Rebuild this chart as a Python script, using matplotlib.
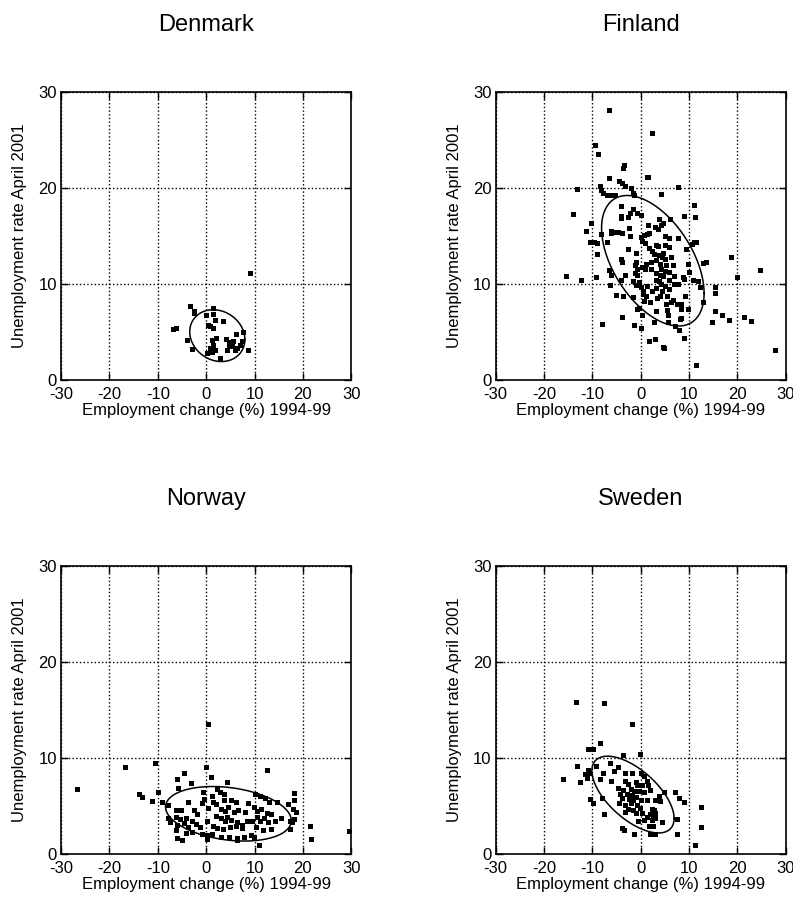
import numpy as np
import matplotlib
matplotlib.use("Agg")
import matplotlib.pyplot as plt

plt.rcParams['font.family'] = ['Liberation Sans', 'DejaVu Sans']
plt.rcParams['axes.unicode_minus'] = False

countries = ['Denmark', 'Finland', 'Norway', 'Sweden']
xlabel = 'Employment change (%) 1994-99'
ylabel = 'Unemployment rate April 2001'
ticks = [-30, -20, -10, 0, 10, 20, 30]
yticks = [0, 10, 20, 30]

# Denmark
dk_x = [9.1, -3.3, -2.6, -2.5, -6.2, -6.8, -4.0, -3.0, 0.0, 1.5, 1.4, 1.8, 3.5, 0.3,
        0.8, 1.5, 2.1, 1.3, 1.5, 0.8, 0.1, 1.2, 1.9, 2.8, 4.1, 4.8, 5.3, 4.3, 5.5,
        6.2, 7.7, 6.4, 6.9, 7.4, 8.6, 6.0, 4.8]
dk_y = [11.1, 7.7, 7.2, 7.0, 5.4, 5.3, 4.1, 3.2, 6.8, 7.5, 6.9, 6.2, 6.1, 5.7,
        5.6, 5.4, 4.4, 4.1, 3.6, 3.3, 2.8, 2.9, 3.1, 2.3, 4.2, 3.9, 3.5, 3.1, 4.0,
        4.8, 5.0, 3.3, 3.6, 4.0, 3.1, 3.1, 3.5]

# Finland
fi_x = [-6.6, 2.3, -9.4, -8.9, -3.4, -3.7, -6.5, 1.2, 1.6, -13.1, -8.4, -8.2, -4.4,
        -3.9, -3.2, -2.0, 7.8, -7.7, -7.0, -6.2, -5.3, -1.7, -1.3, 4.2, -14.1, -4.1,
        -1.7, -2.3, -0.7, 0.1, 11.0, 11.2, 9.0, -10.3, -4.0, -4.0, -2.6, 3.8, 6.1,
        1.4, 2.9, 3.5, 4.1, 4.5, -11.4, -8.3, -6.1, -6.2, -5.8, -4.8, -3.9, -2.5,
        -2.3, -10.5, -9.6, -9.1, -7.0, 0.1, 0.6, 1.2, 1.8, 5.0, 5.9, 7.7, 11.0, 11.4,
        10.6, 0.2, 0.8, 3.2, 3.6, 5.0, 5.9, -2.6, 1.7, 2.4, 9.4, -9.1, -1.0, 2.8, 3.8,
        4.7, 4.3, -4.1, -3.8, -1.0, 2.1, 3.2, 5.0, 6.2, 12.8, 13.5, 18.6, -1.1, 0.2,
        1.1, 4.0, 5.2, 6.6, 9.7, -6.5, -0.8, 0.8, 2.1, 4.2, 5.0, 5.9, 9.9, 24.6,
        -15.4, -12.4, -9.2, -6.2, -3.2, -1.2, -0.7, 3.2, 3.9, 4.7, 6.8, 8.7, 9.0,
        20.0, -4.1, -1.5, -0.3, 3.2, 3.7, 5.9, 6.9, 7.6, 10.8, 11.9, -6.3, -1.0, 0.0,
        1.2, 4.1, 5.1, 12.3, 15.4, 15.4, 0.4, 2.3, 3.2, 5.9, 4.3, 0.4, 1.1, -5.1,
        -3.7, -1.5, 3.3, 3.9, 5.4, 9.1, 0.7, 1.9, 6.6, 5.2, 6.2, 7.4, 8.3, 12.8,
        -0.8, -0.3, 3.2, 5.4, 8.3, 9.7, 15.4, 16.8, 0.2, 5.6, 8.3, 8.1, -3.9, 21.4,
        22.8, 18.3, 14.8, 5.7, 2.8, -8.1, -1.3, 0.0, 7.1, 7.9, 9.0, 3.0, 1.7, 4.7,
        4.9, 27.7, 11.4]
fi_y = [28.1, 25.7, 24.5, 23.5, 22.4, 22.1, 21.0, 21.1, 21.1, 19.9, 20.2, 19.8, 20.7,
        20.5, 20.2, 20.0, 20.1, 19.5, 19.3, 19.2, 19.3, 19.5, 19.3, 19.4, 17.3, 18.1,
        17.8, 17.4, 17.4, 17.2, 18.2, 17.0, 17.1, 16.3, 17.1, 16.9, 17.0, 16.7, 16.7,
        16.1, 15.9, 15.7, 16.1, 16.3, 15.5, 15.2, 15.5, 15.3, 15.4, 15.4, 15.3, 15.8,
        15.0, 14.4, 14.4, 14.3, 14.4, 14.9, 15.1, 15.2, 15.3, 15.0, 14.8, 14.8, 14.4,
        14.4, 14.1, 14.5, 14.3, 14.0, 13.9, 14.0, 13.8, 13.6, 13.7, 13.4, 13.6, 13.1,
        13.2, 13.1, 13.0, 13.2, 12.8, 12.6, 12.3, 12.3, 12.3, 12.5, 12.6, 12.8, 12.2,
        12.3, 12.8, 12.0, 11.8, 12.1, 12.1, 12.0, 12.0, 12.1, 11.4, 11.5, 11.5, 11.5,
        11.5, 11.3, 11.2, 11.2, 11.4, 10.8, 10.4, 10.7, 10.9, 10.9, 11.1, 10.9, 11.1,
        10.9, 10.8, 10.8, 10.7, 10.5, 10.7, 10.4, 10.3, 10.2, 10.4, 10.3, 10.4, 10.0,
        10.0, 10.4, 10.3, 9.9, 9.9, 9.7, 9.8, 10.0, 9.8, 9.7, 9.7, 9.0, 9.3, 9.2, 9.6,
        9.5, 9.2, 8.9, 8.7, 8.8, 8.7, 8.6, 8.5, 8.7, 8.7, 8.7, 8.2, 8.1, 8.3, 7.9,
        8.1, 7.9, 7.9, 8.1, 7.4, 7.5, 7.2, 7.3, 7.4, 7.4, 7.2, 6.8, 6.8, 6.8, 6.4,
        6.3, 6.5, 6.5, 6.1, 6.2, 6.0, 6.0, 6.0, 5.8, 5.7, 5.4, 5.6, 5.2, 4.4, 4.2,
        4.0, 3.4, 3.3, 3.1, 1.5]

# Norway
no_x = [-26.7, -16.8, -10.5, 0.4, 0.0, 12.5, -4.6, 0.9, -6.0, -3.1, 4.3, -5.9, -0.6,
        2.3, 2.8, 3.7, -10.0, -13.9, -13.3, -11.2, -9.1, -3.8, -0.5, 1.2, -0.8, 1.4,
        3.7, 5.2, 6.2, 8.7, 10.1, 11.1, 12.1, 12.9, 14.7, 16.9, 18.1, 18.1, 18.0,
        18.6, -7.9, -6.3, -5.3, -2.6, -1.9, 0.4, 2.1, 3.1, 3.8, 4.6, 5.7, 6.6, 8.1,
        9.9, 10.6, 11.4, 12.5, 13.5, -7.9, -6.3, -5.4, -4.1, -2.9, 0.2, 2.0, 3.0, 3.8,
        4.3, 5.2, 6.4, 7.4, 8.5, 9.5, 10.6, 11.2, 11.9, 12.8, 14.3, 15.4, 17.3, 18.1,
        17.8, -7.4, -6.0, -4.6, -3.7, -2.2, -1.2, 1.4, 2.3, 3.5, 5.0, 6.1, 7.4, 10.2,
        11.8, 13.4, 17.3, -6.3, -4.1, -2.9, -0.8, 0.2, 1.2, 3.0, 4.7, 6.3, 7.8, 9.2,
        9.9, -6.0, -5.0, 0.2, 6.4, 10.9, 21.4, 21.6, 29.5]
no_y = [6.8, 9.1, 9.5, 13.6, 9.1, 8.8, 8.4, 8.0, 7.8, 7.4, 7.5, 6.9, 6.5, 6.8, 6.5,
        6.3, 6.5, 6.3, 5.9, 5.5, 5.4, 5.4, 5.7, 6.1, 5.3, 5.4, 5.6, 5.6, 5.4, 5.3,
        6.3, 6.1, 5.8, 5.4, 5.4, 5.2, 6.4, 5.6, 4.7, 4.4, 5.1, 4.6, 4.6, 4.6, 4.2,
        4.8, 5.2, 4.7, 4.5, 4.9, 4.4, 4.6, 4.4, 4.9, 4.5, 4.7, 4.3, 4.2, 3.8, 3.9,
        3.7, 3.8, 3.4, 3.5, 4.0, 3.8, 3.5, 3.9, 3.6, 3.3, 3.0, 3.4, 3.5, 3.9, 3.5,
        3.8, 3.3, 3.5, 3.8, 3.5, 3.7, 3.3, 3.3, 3.0, 3.2, 2.8, 3.1, 2.8, 2.9, 2.7,
        2.6, 2.8, 2.9, 2.7, 2.8, 2.5, 2.6, 2.6, 2.5, 2.2, 2.3, 2.1, 2.0, 2.1, 1.8,
        1.8, 1.7, 1.8, 2.0, 1.8, 1.7, 1.5, 1.6, 1.5, 0.9, 2.9, 1.6, 2.4]

# Sweden
se_x = [-13.4, -7.5, -1.9, -8.4, -11.0, -9.9, -3.7, -0.2, -13.1, -9.2, -11.0, -11.5,
        -10.7, -7.8, -6.4, -4.7, -5.6, -3.2, -1.8, 0.1, 0.6, -16.0, -12.5, -11.1,
        -8.4, -6.2, -3.3, -2.7, -1.0, 1.2, -0.8, 0.3, 1.4, -4.6, -3.7, -2.1, -1.3,
        -0.4, 0.6, 2.0, -4.2, -2.8, -1.8, -0.9, 3.7, 4.9, 7.0, 7.9, 8.9, -3.9, -2.5,
        -1.5, 0.0, 1.3, 3.0, -10.4, -9.9, -8.0, -4.4, -3.2, -2.1, -0.8, -0.2, 3.9,
        -2.6, -1.5, -3.2, 2.4, 2.8, -0.9, 0.3, 2.0, 3.0, 12.5, -7.5, 1.3, 2.6, 3.0,
        7.5, -0.6, 0.6, 2.4, 4.4, 1.7, 2.6, -3.9, -3.5, 12.4, -1.3, 2.0, 3.0, 7.5,
        11.2]
se_y = [15.8, 15.7, 13.6, 11.6, 11.0, 11.0, 10.3, 10.4, 9.2, 9.2, 8.8, 8.3, 8.4,
        8.5, 9.5, 9.1, 8.7, 8.4, 8.5, 8.4, 8.1, 7.8, 7.5, 7.9, 7.8, 7.6, 7.6, 7.3,
        7.5, 7.6, 7.2, 7.2, 7.2, 6.9, 6.7, 6.8, 6.6, 6.6, 6.5, 6.7, 6.3, 6.3, 6.2,
        6.0, 6.1, 6.5, 6.5, 5.8, 5.4, 5.8, 5.7, 5.6, 5.6, 5.6, 5.6, 5.7, 5.3, 5.8,
        5.3, 5.1, 5.3, 5.1, 4.8, 5.5, 4.7, 4.6, 4.4, 4.7, 4.6, 4.3, 4.3, 4.2, 4.3,
        4.9, 4.2, 3.9, 3.9, 3.8, 3.7, 3.5, 3.6, 3.6, 3.3, 2.9, 2.9, 2.7, 2.5, 2.8,
        2.1, 2.1, 2.1, 2.1, 1.0]

# ellipse: centre, half extents along x and y, correlation
ell_cx = [2.3, 2.5, 4.6, -1.6]
ell_cy = [4.6, 12.4, 4.2, 6.2]
ell_sx = [5.7, 10.6, 13.0, 8.5]
ell_sy = [2.7, 6.8, 2.84, 4.0]
ell_rho = [-0.15, -0.5, -0.25, -0.62]

xs = [dk_x, fi_x, no_x, se_x]
ys = [dk_y, fi_y, no_y, se_y]

fig = plt.figure(figsize=(7.93, 9.0), dpi=100)
lefts = [0.077, 0.625, 0.077, 0.625]
bottoms = [0.578, 0.578, 0.051, 0.051]

for i, name in enumerate(countries):
    ax = fig.add_axes([lefts[i], bottoms[i], 0.366, 0.32])
    ax.plot(xs[i], ys[i], 's', color='black', markersize=3.6, markeredgewidth=0)

    t = np.linspace(0, 2 * np.pi, 300)
    ex = ell_cx[i] + ell_sx[i] * np.cos(t)
    ey = ell_cy[i] + ell_sy[i] * (ell_rho[i] * np.cos(t)
                                  + np.sqrt(1 - ell_rho[i] ** 2) * np.sin(t))
    ax.plot(ex, ey, color='black', linewidth=1.1)

    ax.set_xlim(-30, 30)
    ax.set_ylim(0, 30)
    ax.set_xticks(ticks)
    ax.set_yticks(yticks)
    ax.grid(True, color='black', linestyle=':', linewidth=1.0)
    ax.tick_params(direction='in', length=5, width=1, top=True, right=True,
                   labelsize=12)
    ax.tick_params(axis='x', pad=5)
    ax.tick_params(axis='y', pad=3)
    for s in ax.spines.values():
        s.set_linewidth(1.2)
    ax.set_xlabel(xlabel, fontsize=12, labelpad=1)
    ax.set_ylabel(ylabel, fontsize=12, labelpad=8)
    ax.set_title(name, fontsize=17, pad=44)

fig.savefig('out.png', dpi=100)
